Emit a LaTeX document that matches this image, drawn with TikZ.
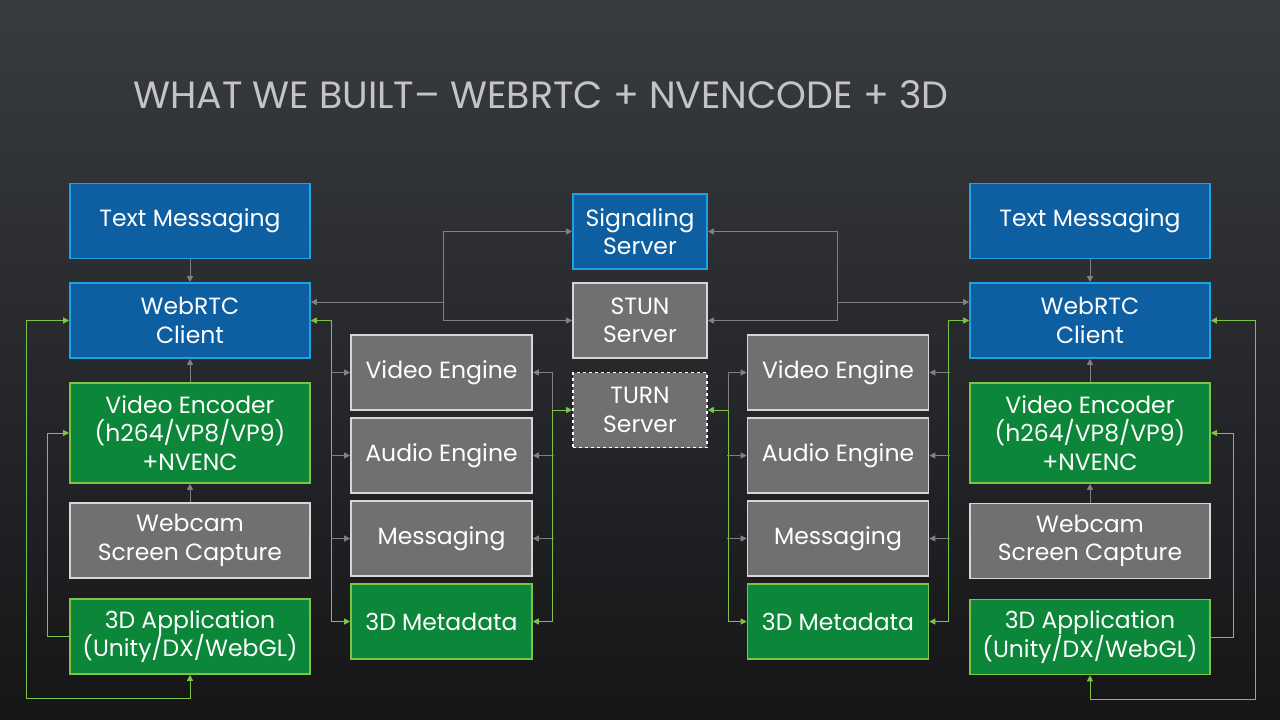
\documentclass[tikz,border=0pt]{standalone}
\usepackage{fontspec}
\setmainfont{Poppins}
\usetikzlibrary{arrows.meta}
\definecolor{bgtop}{RGB}{56,59,64}
\definecolor{bgbot}{RGB}{22,22,24}
\definecolor{titlegray}{RGB}{196,196,198}
\definecolor{bluefill}{RGB}{14,94,162}
\definecolor{blueline}{RGB}{30,162,226}
\definecolor{greenfill}{RGB}{12,134,56}
\definecolor{greenline}{RGB}{125,196,70}
\definecolor{grayfill}{RGB}{112,112,112}
\definecolor{grayline}{RGB}{214,214,214}
\definecolor{linkgray}{RGB}{128,128,130}
\begin{document}
\begin{tikzpicture}[x=1pt,y=1pt,>={Triangle[length=6pt,width=6pt]}]
\tikzstyle{every node}+=[inner sep=0pt]
\tikzstyle{box}=[draw, line width=1.6pt, text=white, align=center, minimum width=240pt, minimum height=75pt, font=\fontsize{23.5}{28.5}\selectfont]
\tikzstyle{bluebox}=[box, fill=bluefill, draw=blueline]
\tikzstyle{greenbox}=[box, fill=greenfill, draw=greenline]
\tikzstyle{graybox}=[box, fill=grayfill, draw=grayline]
\tikzstyle{engine}=[minimum width=181pt]
\tikzstyle{server}=[minimum width=134pt]
\tikzstyle{link}=[draw=linkgray, line width=1pt]
\tikzstyle{glink}=[draw=greenline, line width=1pt]
\shade [top color=bgtop, bottom color=bgbot] (0,0) rectangle (1280,-720);
\useasboundingbox (0,0) rectangle (1280,-720);
\node (title) [anchor=base west, text=titlegray] at (133,-108) {\resizebox{815pt}{28pt}{WHAT WE BUILT– WEBRTC + NVENCODE + 3D}};
% left peer
\node (ltext) [bluebox] at (190,-221) {Text Messaging};
\node (lclient) [bluebox] at (190,-320.5) {WebRTC\\Client};
\node (lenc) [greenbox, minimum height=100pt] at (190,-433) {Video Encoder\\(h264/VP8/VP9)\\+NVENC};
\node (lcam) [graybox] at (190,-540.5) {Webcam\\Screen Capture};
\node (lapp) [greenbox] at (190,-636.5) {3D Application\\(Unity/DX/WebGL)};
\node (lvid) [graybox, engine] at (441.5,-372.5) {Video Engine};
\node (laud) [graybox, engine] at (441.5,-455.5) {Audio Engine};
\node (lmsg) [graybox, engine] at (441.5,-538.5) {Messaging};
\node (lmeta) [greenbox, engine] at (441.5,-621.5) {3D Metadata};
% servers
\node (sig) [bluebox, server] at (640,-231.5) {Signaling\\Server};
\node (stun) [graybox, server] at (640,-320.5) {STUN\\Server};
\node (turn) [graybox, server, dashed, draw=white] at (640,-410) {TURN\\Server};
% right peer
\node (rvid) [graybox, engine] at (838,-372.5) {Video Engine};
\node (raud) [graybox, engine] at (838,-455.5) {Audio Engine};
\node (rmsg) [graybox, engine] at (838,-538.5) {Messaging};
\node (rmeta) [greenbox, engine] at (838,-621.5) {3D Metadata};
\node (rtext) [bluebox] at (1090,-221) {Text Messaging};
\node (rclient) [bluebox] at (1090,-320.5) {WebRTC\\Client};
\node (renc) [greenbox, minimum height=100pt] at (1090,-433) {Video Encoder\\(h264/VP8/VP9)\\+NVENC};
\node (rcam) [graybox] at (1090,-541) {Webcam\\Screen Capture};
\node (rapp) [greenbox] at (1090,-637) {3D Application\\(Unity/DX/WebGL)};
\coordinate (lbus) at (443,-302);
\coordinate (rbus) at (837,-302);
% left links
\draw [link,->] (ltext) -- (lclient);
\draw [link,->] (lenc) -- (lclient);
\draw [link,->] (lcam) -- (lenc);
\draw [link,->] (lbus) -- (lbus -| lclient.east);
\draw [link,->] (lbus) |- (sig.west);
\draw [link,->] (lbus) |- (stun.west);
\draw [glink,<->] (lclient.west) -- ++(-43,0) |- ([yshift=-24pt]lapp.south) -- (lapp.south);
\draw [glink,->] (lapp.west) -- ++(-22,0) |- (lenc.west);
\draw [glink,<->] (lclient.east) -- ++(21,0) |- (lmeta.west);
\draw [link,->] ([xshift=-19pt]lvid.west) -- (lvid.west);
\draw [link,->] ([xshift=-19pt]laud.west) -- (laud.west);
\draw [link,->] ([xshift=-19pt]lmsg.west) -- (lmsg.west);
\draw [glink,<->] (turn.west) -- ++(-20,0) |- (lmeta.east);
\draw [link,->] ([xshift=-20pt]turn.west) |- (lvid.east);
\draw [link,->] ([xshift=21pt]laud.east) -- (laud.east);
\draw [link,->] ([xshift=21pt]lmsg.east) -- (lmsg.east);
% right links
\draw [link,->] (rtext) -- (rclient);
\draw [link,->] (renc) -- (rclient);
\draw [link,->] (rcam) -- (renc);
\draw [link,->] (rbus) -- (rbus -| rclient.west);
\draw [link,->] (rbus) |- (sig.east);
\draw [link,->] (rbus) |- (stun.east);
\draw [glink,<->] (rclient.east) -- ++(45,0) |- ([yshift=-24pt]rapp.south) -- (rapp.south);
\draw [glink,->] (rapp.east) -- ++(23,0) |- (renc.east);
\draw [glink,<->] (rclient.west) -- ++(-21,0) |- (rmeta.east);
\draw [link,->] ([xshift=21pt]rvid.east) -- (rvid.east);
\draw [link,->] ([xshift=21pt]raud.east) -- (raud.east);
\draw [link,->] ([xshift=21pt]rmsg.east) -- (rmsg.east);
\draw [glink,<->] (turn.east) -- ++(21,0) |- (rmeta.west);
\draw [link,->] ([xshift=21pt]turn.east) |- (rvid.west);
\draw [link,->] ([xshift=-20pt]raud.west) -- (raud.west);
\draw [link,->] ([xshift=-20pt]rmsg.west) -- (rmsg.west);
\end{tikzpicture}
\end{document}
